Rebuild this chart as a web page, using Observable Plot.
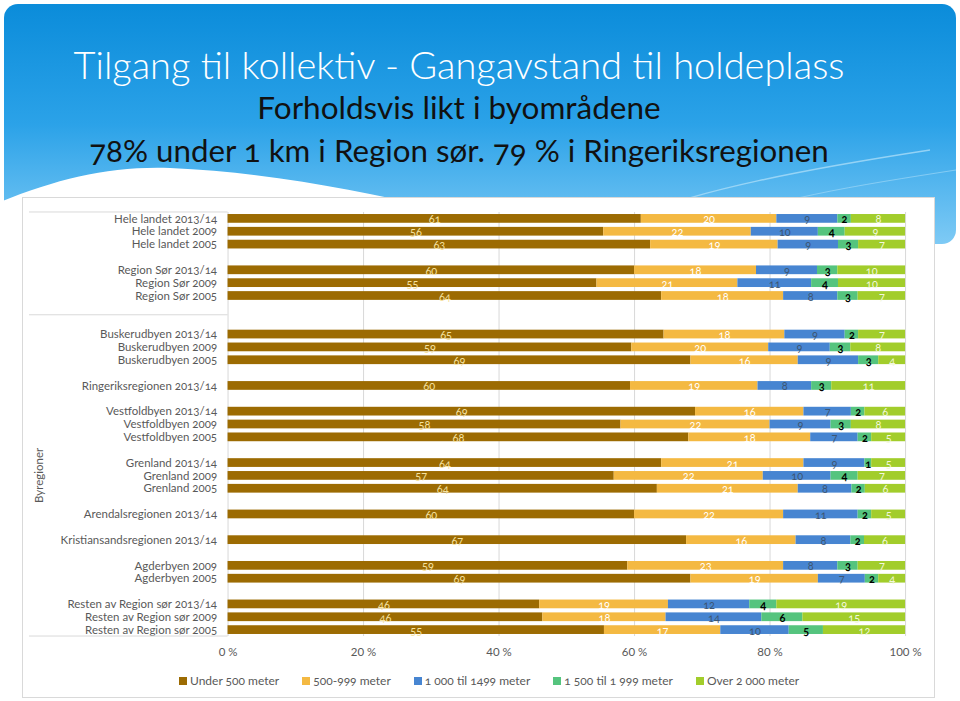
<!DOCTYPE html>
<html>
<head>
<meta charset="utf-8">
<script src="https://cdn.jsdelivr.net/npm/d3@7"></script>
<script src="https://cdn.jsdelivr.net/npm/@observablehq/plot@0.6"></script>
<style>
  html, body { margin: 0; padding: 0; background: #fff; }
  body { width: 960px; height: 701px; position: relative; overflow: hidden; font-family: Lato, "Open Sans", sans-serif; font-variant-numeric: oldstyle-nums; }
  #bgsvg { position: absolute; left: 0; top: 0; }
  .title { position: absolute; left: 0; width: 918px; text-align: center; white-space: nowrap; }
  #t1 { top: 41px; font-size: 38px; font-weight: 300; color: #fff; }
  #t2 { top: 88px; font-size: 31.5px; color: #111; }
  #t3 { top: 131px; font-size: 31.3px; color: #111; }
  #panel { position: absolute; left: 22px; top: 197px; width: 913px; height: 501px; background: #fff; border: 1px solid #d9d9d9; box-sizing: border-box; }
  #chart { position: absolute; left: 0; top: 0; }
  #legend { position: absolute; left: 156px; top: 475px; display: flex; gap: 0; font-size: 12px; color: #595959; white-space: nowrap; }
  #legend .item { display: flex; align-items: center; margin-right: 23px; }
  #legend .sw { width: 8px; height: 8px; margin-right: 3px; }
</style>
</head>
<body>
<svg id="bgsvg" width="960" height="701">
  <defs>
    <linearGradient id="g" x1="0" y1="0" x2="0" y2="1">
      <stop offset="0" stop-color="#0b8cda"/>
      <stop offset="0.5" stop-color="#2ba2e8"/>
      <stop offset="1" stop-color="#7ecaf5"/>
    </linearGradient>
  </defs>
  <rect x="4" y="4" width="952" height="240" rx="14" fill="url(#g)"/>
  <path d="M930,150 C 800,170 700,190 640,215" fill="none" stroke="#a9dcf8" stroke-width="1.5" opacity="0.8"/>
  <path d="M956,170 C 860,185 760,200 700,230" fill="none" stroke="#a9dcf8" stroke-width="1" opacity="0.6"/>
  <path d="M0,202 C 60,178 110,166 170,168 C 270,172 360,192 430,206 L 430,260 L 0,260 Z" fill="#fff"/>
</svg>
<div class="title" id="t1">Tilgang til kollektiv - Gangavstand til holdeplass</div>
<div class="title" id="t2">Forholdsvis likt i byområdene</div>
<div class="title" id="t3">78% under 1 km i Region sør. 79 % i Ringeriksregionen</div>
<div id="panel">
  <div id="chart"></div>
  <div id="legend"></div>
</div>
<script>
// ---- data ----
const rowLabels = [
  "Hele landet 2013/14", "Hele landet 2009", "Hele landet 2005",
  "Region Sør 2013/14", "Region Sør 2009", "Region Sør 2005",
  "Buskerudbyen 2013/14", "Buskerudbyen 2009", "Buskerudbyen 2005",
  "Ringeriksregionen 2013/14",
  "Vestfoldbyen 2013/14", "Vestfoldbyen 2009", "Vestfoldbyen 2005",
  "Grenland 2013/14", "Grenland 2009", "Grenland 2005",
  "Arendalsregionen 2013/14",
  "Kristiansandsregionen 2013/14",
  "Agderbyen 2009", "Agderbyen 2005",
  "Resten av Region sør 2013/14", "Resten av Region sør 2009", "Resten av Region sør 2005"
];
const under500  = [61,56,63, 60,55,64, 65,59,69, 60, 69,58,68, 64,57,64, 60, 67, 59,69, 46,46,55];
const m500_999  = [20,22,19, 18,21,18, 18,20,16, 19, 16,22,18, 21,22,21, 22, 16, 23,19, 19,18,17];
const m1000_1499= [ 9,10, 9,  9,11, 8,  9, 9, 9,  8,  7, 9, 7,  9,10, 8, 11,  8,  8, 7, 12,14,10];
const m1500_1999= [ 2, 4, 3,  3, 4, 3,  2, 3, 3,  3,  2, 3, 2,  1, 4, 2,  2,  2,  3, 2,  4, 6, 5];
const over2000  = [ 8, 9, 7, 10,10, 7,  7, 8, 4, 11,  6, 8, 5,  5, 7, 6,  5,  6,  7, 4, 19,15,12];
const seriesNames = ["Under 500 meter", "500-999 meter", "1 000 til 1499 meter", "1 500 til 1 999 meter", "Over 2 000 meter"];
const seriesColors = ["#9c6b02", "#f4b942", "#4785d1", "#55c47e", "#a2cd2b"];
const labelColors = ["#f6e2a0", "#ffffff", "#3d5673", "#000000", "#f2f8dc"];
const labelWeights = ["normal", "normal", "normal", "bold", "normal"];
const xTicks = [0, 0.2, 0.4, 0.6, 0.8, 1];
const groupLabel = "Byregioner";
const groupStartRow = "Buskerudbyen 2013/14";

// ---- build ----
const seriesValues = [under500, m500_999, m1000_1499, m1500_1999, over2000];
const data = [];
rowLabels.forEach((row, i) => {
  seriesNames.forEach((s, k) => data.push({row, series: s, value: seriesValues[k][i]}));
});

// y domain with blank slots between region groups
const domain = [];
let prev = null;
let groupBoundary = 0;
rowLabels.forEach((r, i) => {
  const name = r.replace(/ \S+$/, "");
  if (prev !== null && name !== prev) {
    domain.push("_gap" + i);
    if (r === groupStartRow) { groupBoundary = domain.length; domain.push("_gapb" + i); }
  }
  domain.push(r);
  prev = name;
});

const W = 913, H = 470, mt = 14, mb = 31, ml = 205, mr = 29;

const marks = [
  Plot.ruleX(xTicks, {stroke: "#d9d9d9", strokeWidth: 1}),
  Plot.barX(data, Plot.stackX({x: "value", y: "row", fill: "series", order: seriesNames, offset: "normalize"}))
];
seriesNames.forEach((s, k) => {
  marks.push(Plot.text(data, Plot.stackX({
    x: "value", y: "row", z: "series", order: seriesNames, offset: "normalize",
    text: d => d.series === s ? String(d.value) : null,
    fill: labelColors[k], fontWeight: labelWeights[k], fontSize: 11, dy: 1
  })));
});

const plot = Plot.plot({
  width: W, height: H,
  marginTop: mt, marginBottom: mb, marginLeft: ml, marginRight: mr,
  style: {fontFamily: "Lato, 'Open Sans', sans-serif", fontSize: "11.5px", color: "#595959", background: "transparent", fontVariantNumeric: "oldstyle-nums"},
  x: {domain: [0, 1], ticks: xTicks, tickFormat: d => Math.round(d * 100) + " %", tickSize: 0, tickPadding: 11, label: null},
  y: {domain, type: "band", round: false, paddingInner: 0.32, paddingOuter: 0.16, tickSize: 0, tickPadding: 11, tickFormat: d => d.startsWith("_") ? "" : d, label: null},
  color: {domain: seriesNames, range: seriesColors},
  marks
});
document.getElementById("chart").appendChild(plot);

// category separators and group label in the label area
const step = (H - mt - mb) / domain.length;
const svg = d3.select(plot);
const g = svg.append("g");
[0, groupBoundary, domain.length].forEach(b => {
  g.append("line").attr("x1", 6).attr("x2", ml).attr("y1", mt + b * step).attr("y2", mt + b * step)
    .attr("stroke", "#d9d9d9").attr("stroke-width", 1);
});
const gy = mt + (groupBoundary + domain.length) / 2 * step;
g.append("text").attr("transform", `translate(20,${gy}) rotate(-90)`)
  .attr("text-anchor", "middle").attr("fill", "#595959").attr("font-size", "11.5px").text(groupLabel);

// legend
const legend = document.getElementById("legend");
seriesNames.forEach((s, k) => {
  const it = document.createElement("div"); it.className = "item";
  const sw = document.createElement("div"); sw.className = "sw"; sw.style.background = seriesColors[k];
  const tx = document.createElement("span"); tx.textContent = s;
  it.appendChild(sw); it.appendChild(tx); legend.appendChild(it);
});
</script>
</body>
</html>
